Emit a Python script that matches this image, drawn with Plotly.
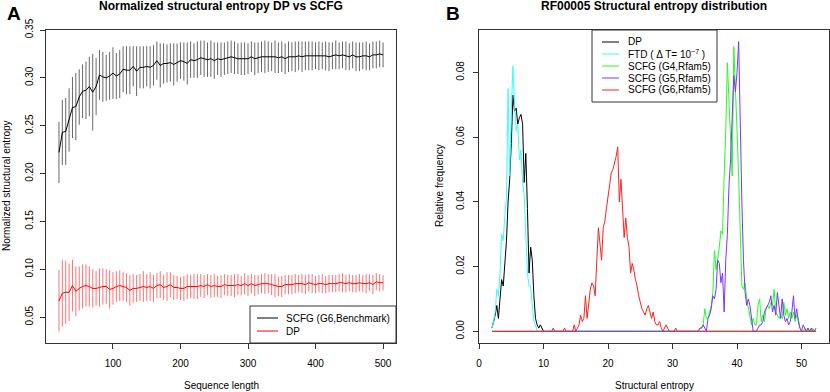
import plotly.graph_objects as go

# ---------------- panel A: normalized structural entropy vs length ----------------
SEQ_LEN = list(range(20, 505, 5))

SCFG_MEAN = [
    0.222, 0.243, 0.244, 0.256, 0.269, 0.270, 0.280, 0.286, 0.287, 0.291,
    0.285, 0.291, 0.303, 0.301, 0.300, 0.302, 0.305, 0.302, 0.304, 0.309,
    0.308, 0.308, 0.312, 0.307, 0.311, 0.311, 0.312, 0.311, 0.313, 0.318,
    0.313, 0.315, 0.315, 0.316, 0.314, 0.316, 0.318, 0.317, 0.315, 0.319,
    0.318, 0.319, 0.321, 0.320, 0.319, 0.320, 0.318, 0.320, 0.319, 0.320,
    0.321, 0.322, 0.321, 0.320, 0.320, 0.320, 0.320, 0.322, 0.320, 0.321,
    0.322, 0.322, 0.322, 0.322, 0.322, 0.321, 0.322, 0.320, 0.322, 0.322,
    0.322, 0.323, 0.322, 0.323, 0.323, 0.323, 0.323, 0.323, 0.323, 0.323,
    0.322, 0.323, 0.324, 0.323, 0.324, 0.323, 0.322, 0.324, 0.322, 0.322,
    0.323, 0.323, 0.322, 0.324, 0.324, 0.325, 0.324,
]
SCFG_SD = [
    0.032, 0.034, 0.035, 0.033, 0.032, 0.035, 0.029, 0.028, 0.030, 0.031,
    0.040, 0.030, 0.026, 0.026, 0.024, 0.025, 0.027, 0.024, 0.025, 0.024,
    0.025, 0.025, 0.021, 0.026, 0.022, 0.022, 0.021, 0.022, 0.021, 0.020,
    0.023, 0.021, 0.020, 0.020, 0.022, 0.020, 0.019, 0.020, 0.022, 0.019,
    0.018, 0.019, 0.018, 0.019, 0.018, 0.019, 0.019, 0.017, 0.018, 0.017,
    0.017, 0.017, 0.017, 0.016, 0.017, 0.017, 0.016, 0.016, 0.017, 0.016,
    0.016, 0.017, 0.016, 0.015, 0.017, 0.016, 0.016, 0.016, 0.016, 0.015,
    0.016, 0.015, 0.016, 0.015, 0.015, 0.015, 0.014, 0.015, 0.014, 0.015,
    0.015, 0.014, 0.015, 0.014, 0.014, 0.015, 0.014, 0.014, 0.015, 0.015,
    0.014, 0.015, 0.014, 0.014, 0.014, 0.014, 0.013,
]
DP_MEAN = [
    0.067, 0.075, 0.076, 0.076, 0.083, 0.077, 0.080, 0.082, 0.083, 0.082,
    0.080, 0.080, 0.081, 0.082, 0.082, 0.079, 0.080, 0.082, 0.083, 0.082,
    0.081, 0.078, 0.080, 0.080, 0.081, 0.082, 0.081, 0.082, 0.080, 0.083,
    0.084, 0.081, 0.082, 0.084, 0.081, 0.081, 0.080, 0.080, 0.082, 0.082,
    0.082, 0.082, 0.083, 0.082, 0.084, 0.082, 0.083, 0.082, 0.082, 0.084,
    0.083, 0.083, 0.083, 0.084, 0.083, 0.085, 0.083, 0.085, 0.083, 0.084,
    0.085, 0.085, 0.085, 0.084, 0.083, 0.082, 0.082, 0.084, 0.084, 0.084,
    0.085, 0.085, 0.085, 0.084, 0.086, 0.085, 0.084, 0.085, 0.085, 0.084,
    0.085, 0.085, 0.085, 0.086, 0.086, 0.085, 0.086, 0.085, 0.085, 0.086,
    0.085, 0.085, 0.086, 0.084, 0.087, 0.086, 0.086,
]
DP_SD = [
    0.032, 0.035, 0.033, 0.030, 0.027, 0.026, 0.023, 0.023, 0.022, 0.021,
    0.020, 0.018, 0.020, 0.019, 0.018, 0.020, 0.017, 0.016, 0.016, 0.015,
    0.015, 0.016, 0.015, 0.014, 0.014, 0.016, 0.014, 0.015, 0.014, 0.013,
    0.014, 0.013, 0.015, 0.013, 0.013, 0.012, 0.012, 0.013, 0.013, 0.012,
    0.013, 0.013, 0.012, 0.012, 0.011, 0.012, 0.012, 0.011, 0.012, 0.011,
    0.011, 0.011, 0.012, 0.011, 0.010, 0.011, 0.011, 0.010, 0.011, 0.010,
    0.010, 0.011, 0.010, 0.011, 0.012, 0.010, 0.011, 0.010, 0.010, 0.010,
    0.010, 0.009, 0.010, 0.010, 0.009, 0.010, 0.009, 0.009, 0.010, 0.009,
    0.009, 0.009, 0.009, 0.009, 0.010, 0.009, 0.009, 0.009, 0.009, 0.009,
    0.009, 0.010, 0.009, 0.010, 0.009, 0.009, 0.008,
]

# ---------------- panel B: RF00005 entropy histograms ----------------
# every series sampled on the same bins (2.0 .. 52.25, step 0.25);
# each list below starts at its *_START bin, bins outside are zero
BIN_START = 2.0
BIN_STEP = 0.25
N_BINS = 202

DP_HIST_START = 2.0
DP_HIST = [
    0.001, 0.003, 0.005, 0.008, 0.004, 0.010, 0.016, 0.014, 0.020, 0.028,
    0.040, 0.047, 0.058, 0.073, 0.068, 0.069, 0.064, 0.066, 0.067, 0.064,
    0.046, 0.055, 0.038, 0.018, 0.026, 0.022, 0.011, 0.004, 0.002, 0.001,
    0.002, 0.001, 0.0,
]
FTD_HIST_START = 2.0
FTD_HIST = [
    0.001, 0.003, 0.006, 0.013, 0.011, 0.018, 0.030, 0.028, 0.036, 0.041,
    0.075, 0.048, 0.068, 0.082, 0.070, 0.062, 0.064, 0.053, 0.056, 0.046,
    0.042, 0.030, 0.018, 0.014, 0.014, 0.008, 0.003, 0.002, 0.0,
]
G6_HIST_START = 11.0
G6_HIST = [
    0.0, 0.0, 0.001, 0.0, 0.0, 0.0, 0.0, 0.0, 0.0, 0.001,
    0.0, 0.0, 0.0, 0.0, 0.0, 0.002, 0.0, 0.001, 0.002, 0.005,
    0.003, 0.004, 0.011, 0.004, 0.009, 0.013, 0.015, 0.014, 0.011, 0.020,
    0.032, 0.027, 0.022, 0.032, 0.034, 0.038, 0.042, 0.045, 0.049, 0.050,
    0.052, 0.054, 0.057, 0.040, 0.047, 0.038, 0.029, 0.035, 0.029, 0.026,
    0.018, 0.021, 0.019, 0.016, 0.014, 0.011, 0.009, 0.007, 0.006, 0.005,
    0.007, 0.008, 0.006, 0.004, 0.006, 0.003, 0.002, 0.002, 0.003, 0.001,
    0.0, 0.001, 0.002, 0.001, 0.0, 0.0, 0.0, 0.0, 0.001, 0.0, 0.0,
]
G4_HIST_START = 34.0
G4_HIST = [
    0.0, 0.001, 0.001, 0.002, 0.007, 0.004, 0.004, 0.006, 0.008, 0.012,
    0.025, 0.019, 0.022, 0.026, 0.031, 0.030, 0.048, 0.062, 0.083, 0.072,
    0.060, 0.048, 0.088, 0.077, 0.062, 0.048, 0.031, 0.014, 0.013, 0.015,
    0.010, 0.007, 0.004, 0.002, 0.004, 0.002, 0.002, 0.008, 0.010, 0.003,
    0.005, 0.003, 0.007, 0.008, 0.007, 0.009, 0.008, 0.013, 0.006, 0.005,
    0.004, 0.005, 0.004, 0.009, 0.005, 0.007, 0.004, 0.006, 0.004, 0.006,
    0.003, 0.005, 0.004, 0.001, 0.0, 0.0, 0.001, 0.0, 0.001, 0.0,
    0.0, 0.001, 0.0, 0.0,
]
G5_HIST_START = 34.0
G5_HIST = [
    0.0, 0.001, 0.001, 0.002, 0.001, 0.0, 0.004, 0.005, 0.007, 0.011,
    0.010, 0.013, 0.022, 0.021, 0.015, 0.018, 0.006, 0.022, 0.030, 0.045,
    0.053, 0.064, 0.079, 0.074, 0.080, 0.0895, 0.060, 0.040, 0.022, 0.012,
    0.008, 0.010, 0.008, 0.004, 0.0, 0.0, 0.0, 0.001, 0.002, 0.002,
    0.003, 0.006, 0.007, 0.008, 0.009, 0.011, 0.006, 0.008, 0.005, 0.012,
    0.007, 0.004, 0.010, 0.005, 0.003, 0.004, 0.002, 0.003, 0.006, 0.011,
    0.004, 0.007, 0.003, 0.001, 0.0, 0.002, 0.001, 0.0, 0.001, 0.0,
    0.001, 0.0, 0.0, 0.001,
]

FONT = "Liberation Sans, Arial, Helvetica, sans-serif"
W, H = 830, 392


def px_x(p):
    return p / W


def px_y(p):
    return 1 - p / H


def full_bins(start, vals):
    """Place a series on the shared bin grid, zero elsewhere."""
    out = [0.0] * N_BINS
    i0 = int(round((start - BIN_START) / BIN_STEP))
    for i, v in enumerate(vals):
        out[i0 + i] = v
    return out


bins_x = [BIN_START + i * BIN_STEP for i in range(N_BINS)]

fig = go.Figure()

# panel A
fig.add_trace(go.Scatter(
    x=SEQ_LEN, y=SCFG_MEAN, mode="lines", xaxis="x", yaxis="y",
    line=dict(color="black", width=1), showlegend=False,
    error_y=dict(type="data", array=SCFG_SD, visible=True,
                 color="rgba(40,40,40,0.7)", thickness=1, width=0),
))
fig.add_trace(go.Scatter(
    x=SEQ_LEN, y=DP_MEAN, mode="lines", xaxis="x", yaxis="y",
    line=dict(color="red", width=1), showlegend=False,
    error_y=dict(type="data", array=DP_SD, visible=True,
                 color="rgba(255,40,40,0.65)", thickness=1, width=0),
))

# panel B
hist_series = [
    ("DP", DP_HIST_START, DP_HIST, "black"),
    ("FTD", FTD_HIST_START, FTD_HIST, "#33FFFF"),
    ("SCFG (G4,Rfam5)", G4_HIST_START, G4_HIST, "#22FF22"),
    ("SCFG (G5,Rfam5)", G5_HIST_START, G5_HIST, "#7F33FF"),
    ("SCFG (G6,Rfam5)", G6_HIST_START, G6_HIST, "#FF2020"),
]
for name, start, vals, col in hist_series:
    fig.add_trace(go.Scatter(
        x=bins_x, y=full_bins(start, vals), mode="lines", name=name,
        xaxis="x2", yaxis="y2", line=dict(color=col, width=1),
        showlegend=False,
    ))

axis_common = dict(
    showline=True, mirror=True, linecolor="#333", linewidth=1,
    ticks="outside", ticklen=5, tickcolor="#333", showgrid=False,
    zeroline=False, automargin=False,
    tickfont=dict(family=FONT, size=10, color="black"),
)

fig.update_layout(
    width=W, height=H, autosize=False,
    paper_bgcolor="white", plot_bgcolor="white",
    margin=dict(l=0, r=0, t=0, b=0, pad=0, autoexpand=False),
    font=dict(family=FONT, size=10, color="black"),
    xaxis=dict(domain=[px_x(46), px_x(396)], range=[0.8, 519.2],
               tickvals=[100, 200, 300, 400, 500], anchor="y",
               ticklabelstandoff=6, **axis_common),
    yaxis=dict(domain=[px_y(343), px_y(30)], range=[0.023, 0.350],
               tickvals=[0.05, 0.10, 0.15, 0.20, 0.25, 0.30, 0.35],
               tickformat=".2f", tickangle=-90, anchor="x",
               ticklabelstandoff=3, **axis_common),
    xaxis2=dict(domain=[px_x(479), px_x(829)], range=[-0.01, 54.26],
                tickvals=[0, 10, 20, 30, 40, 50], anchor="y2",
                ticklabelstandoff=6, **axis_common),
    yaxis2=dict(domain=[px_y(343), px_y(30)], range=[-0.0036, 0.0931],
                tickvals=[0.0, 0.02, 0.04, 0.06, 0.08],
                tickformat=".2f", tickangle=-90, anchor="x2",
                ticklabelstandoff=5, **axis_common),
)

ann = []


def text(x, y, s, size=10, bold=False, angle=0, xanchor="center"):
    ann.append(dict(
        x=px_x(x), y=px_y(y), xref="paper", yref="paper", text=f"<b>{s}</b>" if bold else s,
        showarrow=False, xanchor=xanchor, yanchor="middle", textangle=angle,
        font=dict(family=FONT, size=size, color="black"),
    ))


# titles and panel letters
text(221, 6, "Normalized structural entropy DP vs SCFG", size=12, bold=True)
text(654, 6, "RF00005 Structural entropy distribution", size=12, bold=True)
text(14, 14, "A", size=19, bold=True)
text(453, 13, "B", size=19, bold=True)

# axis titles
text(221, 385, "Sequence length")
text(654, 385, "Structural entropy")
text(6, 186, "Normalized structural entropy", angle=-90)
text(439, 186, "Relative frequency", angle=-90)

shapes = []


def legend_box(x0, y0, x1, y1):
    shapes.append(dict(type="rect", xref="paper", yref="paper",
                       x0=px_x(x0), x1=px_x(x1), y0=px_y(y1), y1=px_y(y0),
                       line=dict(color="#333", width=1), fillcolor="white",
                       layer="above"))


def legend_item(lx0, lx1, tx, y, label, color):
    shapes.append(dict(type="line", xref="paper", yref="paper",
                       x0=px_x(lx0), x1=px_x(lx1), y0=px_y(y), y1=px_y(y),
                       line=dict(color=color, width=1), layer="above"))
    text(tx, y, label, xanchor="left")


# legend panel A
legend_box(250, 306, 396, 343)
legend_item(257, 278, 284, 318, "SCFG (G6,Benchmark)", "black")
legend_item(257, 278, 284, 331, "DP", "red")

# legend panel B
legend_box(592, 30, 717, 102)
legend_labels_b = [
    "DP",
    "FTD ( \u0394 T= 10<sup>\u22127</sup> )",
    "SCFG (G4,Rfam5)",
    "SCFG (G5,Rfam5)",
    "SCFG (G6,Rfam5)",
]
legend_rows_y = [42, 54, 66, 78, 90]
for (name, start, vals, col), lab, yy in zip(hist_series, legend_labels_b, legend_rows_y):
    legend_item(602, 619, 626, yy, lab, col)

fig.update_layout(annotations=ann, shapes=shapes)

# the page body has a default 8px margin; drop it so the figure fills the window
fig.write_html("out.html", config={"displayModeBar": False},
               post_script="document.body.style.margin='0px';")
